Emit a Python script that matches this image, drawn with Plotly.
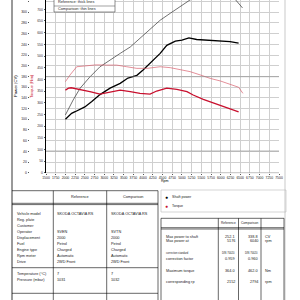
import plotly.graph_objects as go

# ---------------- data ----------------
ref_power_rpm = [2000, 2160, 2250, 2380, 2500, 2680, 2890, 3150, 3410, 3610, 3840, 4000, 4180, 4440, 4610, 4830, 5000, 5180, 5380, 5550, 5900, 6240, 6460]
ref_power = [100, 111, 114, 119, 123, 133, 146, 158, 167, 177, 182, 192, 204, 223, 238, 246, 248, 252, 249, 248, 246, 245, 242]

cmp_power_rpm = [2000, 2200, 2380, 2630, 2890, 3150, 3410, 3670, 3920, 4180, 4440, 4700, 4950, 5210, 5500, 6040, 6300, 6560]
cmp_power = [108, 136, 158, 179, 198, 211, 223, 235, 251, 267, 285, 298, 310, 323, 332, 338.8, 330, 308]

ref_torque_rpm = [2000, 2080, 2150, 2380, 2630, 2890, 3150, 3410, 3670, 3920, 4180, 4350, 4610, 4870, 5130, 5290, 5550, 5860, 6170, 6460]
ref_torque = [354, 362, 364, 357, 347, 337, 347, 354, 347, 340, 337, 350, 362, 357, 347, 333, 314, 297, 279, 261]

cmp_torque_rpm = [2000, 2120, 2290, 2550, 2790, 3060, 3320, 3580, 3840, 4100, 4440, 4700, 4950, 5210, 5470, 5730, 5990, 6240, 6460, 6570]
cmp_torque = [390, 419, 454, 458, 462, 461, 461, 454, 447, 447, 454, 450, 443, 433, 419, 404, 393, 380, 366, 340]

rpm_ticks = list(range(1500, 7501, 250))
power_ticks = list(range(0, 321, 20))
torque_ticks = list(range(0, 701, 50))

legend_items = ["Shaft power", "Torque"]
line_key = ["Reference: thick lines", "Comparison: thin lines"]

left_labels = ["Vehicle model", "Reg. plate", "Customer", "Operator", "Displacement", "Fuel",
               "Engine type", "Rpm meter", "Drive"]
left_ref = ["SKODA OCTAVIA RS", "", "", "SVEN", "2000", "Petrol", "Charged", "Automatic", "2WD Front"]
left_cmp = ["SKODA OCTAVIA RS", "", "", "SVTN", "2000", "Petrol", "Charged", "Automatic", "2WD Front"]
cond_labels = ["Temperature (°C)", "Pressure (mbar)"]
cond_ref = ["7", "1031"]
cond_cmp = ["7", "1032"]

res_labels = ["Max power to shaft", "Max power at", "correction standard", "correction factor",
              "Maximum torque", "corresponding rp"]
res_ref = ["252.1", "5176", "DIN 70020", "0.959", "364.0", "2152"]
res_cmp = ["338.8", "6040", "DIN 70020", "0.960", "462.0", "2794"]
res_unit = ["CV", "rpm", "", "", "Nm", "rpm"]

# ---------------- helpers ----------------
W = H = 300.0
def px(x):
    return x / W
def py(y):
    return 1 - y / H

FONT = "Liberation Sans, Arial, sans-serif"
RED = "#c8102e"
RED_THIN = "#d9606e"
GRID = "#cfcfcf"

fig = go.Figure()

fig.add_trace(go.Scatter(x=cmp_power_rpm, y=cmp_power, mode="lines",
                         line=dict(color="#333333", width=0.7), yaxis="y", showlegend=False))
fig.add_trace(go.Scatter(x=ref_power_rpm, y=ref_power, mode="lines",
                         line=dict(color="#000000", width=1.3), yaxis="y", showlegend=False))
fig.add_trace(go.Scatter(x=cmp_torque_rpm, y=cmp_torque, mode="lines",
                         line=dict(color=RED_THIN, width=0.7), yaxis="y2", showlegend=False))
fig.add_trace(go.Scatter(x=ref_torque_rpm, y=ref_torque, mode="lines",
                         line=dict(color=RED, width=1.3), yaxis="y2", showlegend=False))

x0, x1 = 46, 279
ybot = 172.7

fig.update_layout(
    width=300, height=300,
    margin=dict(l=0, r=0, t=0, b=0),
    paper_bgcolor="white", plot_bgcolor="white",
    font=dict(family=FONT, size=4, color="#222222"),
    showlegend=False,
    xaxis=dict(domain=[px(x0), px(x1)], range=[1500, 7500], tickvals=rpm_ticks,
               ticktext=[str(v) for v in rpm_ticks], tickfont=dict(size=3.4),
               showgrid=True, gridcolor=GRID, gridwidth=0.6, zeroline=False,
               ticks="outside", ticklen=1.5, tickcolor="#555", showline=False,
               automargin=False, fixedrange=True),
    yaxis=dict(domain=[py(ybot), 1], range=[0, 20 * ybot / 10.7], tickvals=power_ticks,
               tickfont=dict(size=3.4), showgrid=True, gridcolor=GRID, gridwidth=0.6,
               zeroline=False, anchor="free", position=px(29), ticks="outside",
               ticklen=1.5, tickcolor="#555", showline=False, automargin=False),
    yaxis2=dict(overlaying="y", range=[0, 50 * ybot / 11.67], tickvals=torque_ticks,
                tickfont=dict(size=3.4, color="#333"), showgrid=False, zeroline=False,
                anchor="free", position=px(45), side="left", ticks="outside", ticklen=1.5,
                tickcolor="#555", showline=True, linecolor="#000", linewidth=0.8,
                automargin=False),
)

shapes = []
def hline(y, xa, xb, color="#000", w=0.6):
    shapes.append(dict(type="line", xref="paper", yref="paper", x0=px(xa), x1=px(xb),
                       y0=py(y), y1=py(y), line=dict(color=color, width=w)))
def vline(x, ya, yb, color="#000", w=0.6):
    shapes.append(dict(type="line", xref="paper", yref="paper", x0=px(x), x1=px(x),
                       y0=py(ya), y1=py(yb), line=dict(color=color, width=w)))

# page frame
vline(12, 0, 300, w=0.8)
vline(285, 0, 300, color="#bbbbbb", w=0.8)
# darker grid lines
hline(76.7, x0, x1, color="#888", w=0.6)
hline(151, x0, x1, color="#888", w=0.6)
hline(ybot, x0, x1, color="#999", w=0.6)

anns = []
def text(x, y, s, size=4, color="#222", xanchor="left", yanchor="middle", **kw):
    anns.append(dict(xref="paper", yref="paper", x=px(x), y=py(y), text=s, showarrow=False,
                     font=dict(size=size, color=color, family=FONT), xanchor=xanchor,
                     yanchor=yanchor, **kw))

# axis titles
text(16, 86, "Power (CV)", size=4.2, color="#000", xanchor="center", textangle=-90)
text(32, 86, "Torque (Nm)", size=4.2, color=RED, xanchor="center", textangle=-90)
text(159, 181, "Rpm", size=3.6, color="#000")

# line key box
shapes.append(dict(type="rect", xref="paper", yref="paper", x0=px(54), x1=px(115),
                   y0=py(12), y1=py(-1), line=dict(color="#444", width=0.6), fillcolor="white"))
hline(6, 54, 115, color="#444", w=0.5)
text(56, 2.5, line_key[0], size=3.8)
text(56, 8.8, line_key[1], size=3.8)

# legend box
shapes.append(dict(type="rect", xref="paper", yref="paper", x0=px(161), x1=px(286),
                   y0=py(212), y1=py(190), line=dict(color="#bbb", width=0.6)))
text(166.5, 197.3, "●", size=5, color="#000", xanchor="center")
text(170, 197.3, legend_items[0], size=3.6)
text(166.5, 205.7, "●", size=5, color=RED, xanchor="center")
text(170, 205.7, legend_items[1], size=3.6)

# left table
lt_x = [12, 53.3, 106.7, 158]
hline(190.7, 12, 158)
hline(203.3, 12, 158)
hline(204.6, 12, 158)
hline(267.7, 12, 158)
hline(293.3, 12, 158)
for xv in lt_x[1:3]:
    vline(xv, 190.7, 300)
vline(158, 190.7, 300, w=0.6)
text(80, 197, "Reference", size=3.8, xanchor="center")
text(133, 197, "Comparison", size=3.8, xanchor="center")
row_y = [214, 220, 226, 232, 238, 244, 250, 256, 262]
for lab, r, c, yv in zip(left_labels, left_ref, left_cmp, row_y):
    text(15, yv, lab, size=3.8)
    text(55, yv, r, size=3.8)
    text(109, yv, c, size=3.8)
for lab, r, c, yv in zip(cond_labels, cond_ref, cond_cmp, [274, 280]):
    text(15, yv, lab, size=3.8)
    text(55, yv, r, size=3.8)
    text(109, yv, c, size=3.8)

# right table
rt_x = [161, 218.3, 238.5, 261, 284]
hline(218.3, 161, 284)
hline(227.7, 161, 284)
hline(229, 161, 284)
for xv in rt_x:
    vline(xv, 218.3, 300)
text(228.4, 223.3, "Reference", size=3.2, xanchor="center")
text(249.7, 223.3, "Comparison", size=3.2, xanchor="center")
res_y = [236.7, 240.7, 253.3, 258.7, 270.7, 281.7]
for lab, r, c, u, yv in zip(res_labels, res_ref, res_cmp, res_unit, res_y):
    small = lab.startswith("correction standard")
    sz = 2.6 if small else 3.8
    text(164, yv, lab, size=sz)
    text(236.5, yv, r, size=sz, xanchor="right")
    text(259.5, yv, c, size=sz, xanchor="right")
    if u:
        text(263, yv, u, size=3.8)

fig.update_layout(shapes=shapes, annotations=anns)
fig.write_html("out.html")
